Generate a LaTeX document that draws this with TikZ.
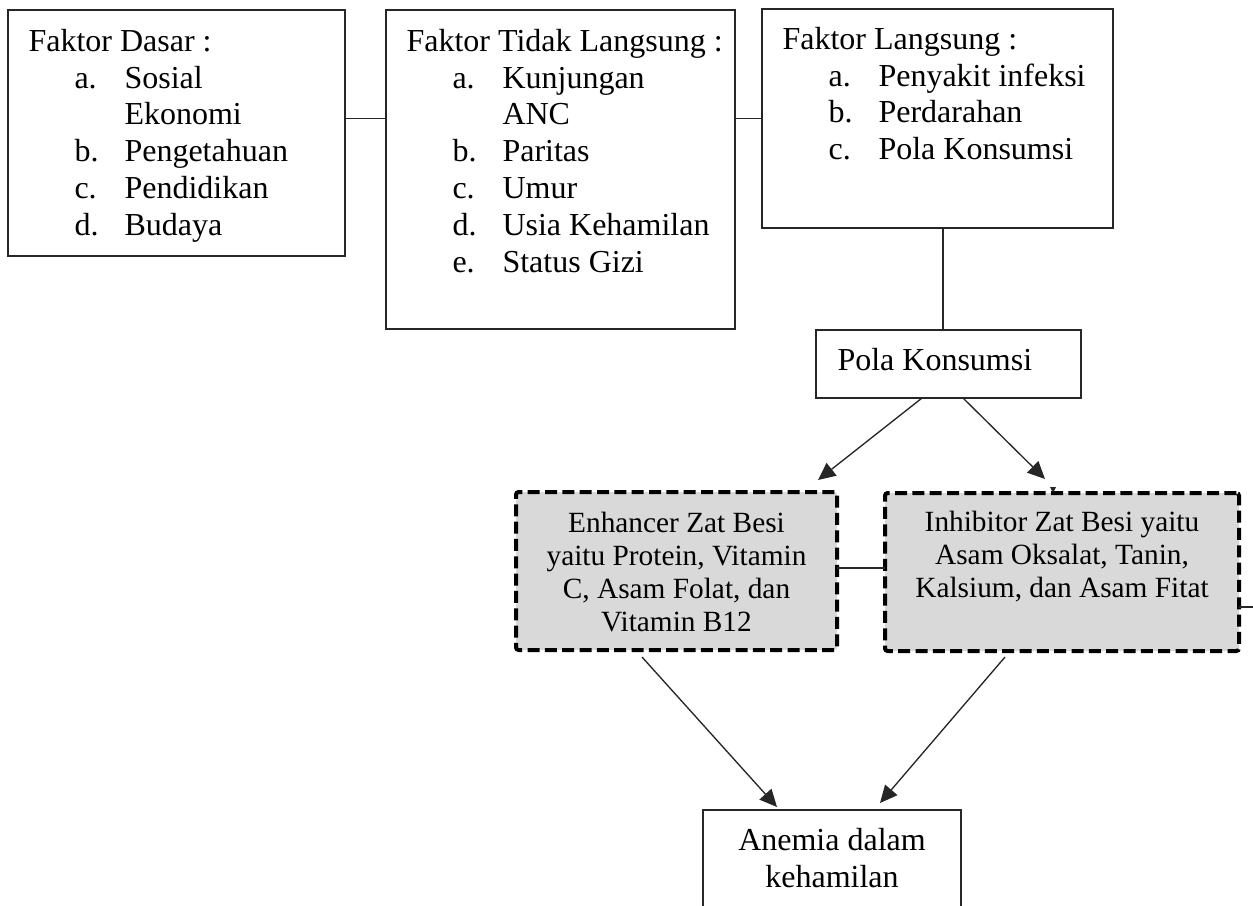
\documentclass[tikz,border=0pt]{standalone}
\usepackage{fontspec}
\setmainfont{Liberation Serif}
\usetikzlibrary{positioning,calc,arrows.meta}
\newdimen\pxu \pxu=0.375pt
\newcommand{\hur}[1]{\hspace*{17.25pt}\makebox[18.75pt][l]{#1}}
\tikzset{
  kotak/.style={draw=black!85, line width=0.75pt, outer sep=0pt, inner sep=0pt, anchor=north west},
  putus/.style={kotak, draw=black, fill=black!15, line width=1.5pt, dash pattern=on 4.5pt off 2pt, rounded corners=1pt},
  isi/.style={font=\fontsize{12pt}{13.8pt}\selectfont, align=left, inner sep=0pt, anchor=north west},
  isikecil/.style={font=\fontsize{11pt}{12.4pt}\selectfont, align=center, inner sep=0pt, anchor=north},
  garis/.style={black!85, line width=0.5pt},
  panah/.style={garis, -{Triangle[length=6.5pt,width=6pt]}}
}
\begin{document}
\begin{tikzpicture}[x=\pxu, y=-\pxu]
  \useasboundingbox (0,0) rectangle (1253,905);
  \clip (0,0) rectangle (1253,905);
  % Kotak faktor
  \node[kotak, minimum width=337\pxu, minimum height=246\pxu] (dasar) at (8,10) {};
  \node[kotak, minimum width=349\pxu, minimum height=319\pxu] (tidak) at (386,10) {};
  \node[kotak, minimum width=351\pxu, minimum height=219\pxu] (langsung) at (762,9) {};
  \node[kotak, minimum width=265\pxu, minimum height=68\pxu] (pola) at (816,330) {};
  % Kotak zat besi
  \node[putus, minimum width=321\pxu, minimum height=158\pxu] (enhancer) at (516,492) {};
  \node[putus, minimum width=354\pxu, minimum height=158\pxu] (inhibitor) at (885,493) {};
  \node[kotak, minimum width=258\pxu, minimum height=130\pxu] (anemia) at (703,810) {};
  % Isi kotak
  \node[isi, below right=15\pxu and 20\pxu of dasar.north west] (dasarTeks) {\strut Faktor Dasar :\\
    \hur{a.}Sosial\\
    \hspace*{36pt}Ekonomi\\
    \hur{b.}Pengetahuan\\
    \hur{c.}Pendidikan\\
    \hur{d.}Budaya};
  \node[isi, below right=15\pxu and 20\pxu of tidak.north west] (tidakTeks) {\strut Faktor Tidak Langsung :\\
    \hur{a.}Kunjungan\\
    \hspace*{36pt}ANC\\
    \hur{b.}Paritas\\
    \hur{c.}Umur\\
    \hur{d.}Usia Kehamilan\\
    \hur{e.}Status Gizi};
  \node[isi, below right=14\pxu and 20\pxu of langsung.north west] (langsungTeks) {\strut Faktor Langsung :\\
    \hur{a.}Penyakit infeksi\\
    \hur{b.}Perdarahan\\
    \hur{c.}Pola Konsumsi};
  \node[isi, anchor=base west] (polaTeks) at ($(pola.north west)+(21,40)$) {Pola Konsumsi};
  \node[isikecil, below=17\pxu of enhancer.north] (enhancerTeks) {\strut Enhancer Zat Besi\\
    yaitu Protein, Vitamin\\
    C, Asam Folat, dan\\
    Vitamin B12};
  \node[isikecil, below=15\pxu of inhibitor.north] (inhibitorTeks) {\strut Inhibitor Zat Besi yaitu\\
    Asam Oksalat, Tanin,\\
    Kalsium, dan Asam Fitat};
  \node[isi, align=center, anchor=north, below=14\pxu of anemia.north] (anemiaTeks) {\strut Anemia dalam\\
    kehamilan};
  % Garis penghubung
  \draw[garis] (dasar.east |- langsung.west) -- (tidak.west |- langsung.west);
  \draw[garis] (tidak.east |- langsung.west) -- (langsung.west);
  \coordinate (tengah) at ($(langsung.south)!.5!(pola.north)$);
  \draw[garis] (tengah |- langsung.south) -- (tengah |- pola.north);
  \draw[panah] ($(pola.south)+(-26.5,0)$) -- ($(enhancer.north east)+(-19,-12)$);
  \draw[panah] ($(pola.south)+(14.5,0)$) -- ($(inhibitor.north west)+(160,-14)$);
  \coordinate (antara) at ($(enhancer.east)+(0,-3)$);
  \draw[garis] (antara) -- (antara -| inhibitor.west);
  \draw[panah] ($(enhancer.south)+(-34.5,7)$) -- ($(anemia.north west)+(74,-3)$);
  \draw[panah] ($(inhibitor.south)+(-57,6)$) -- ($(anemia.north)+(48,-7)$);
  \coordinate (tepi) at (1253,607);
  \draw[garis] (inhibitor.east |- tepi) -- (tepi);
  \fill[black!85] ($(inhibitor.north west)+(165,-6)$) -- ++(6,0) -- ++(-3,6) -- cycle;
\end{tikzpicture}
\end{document}
